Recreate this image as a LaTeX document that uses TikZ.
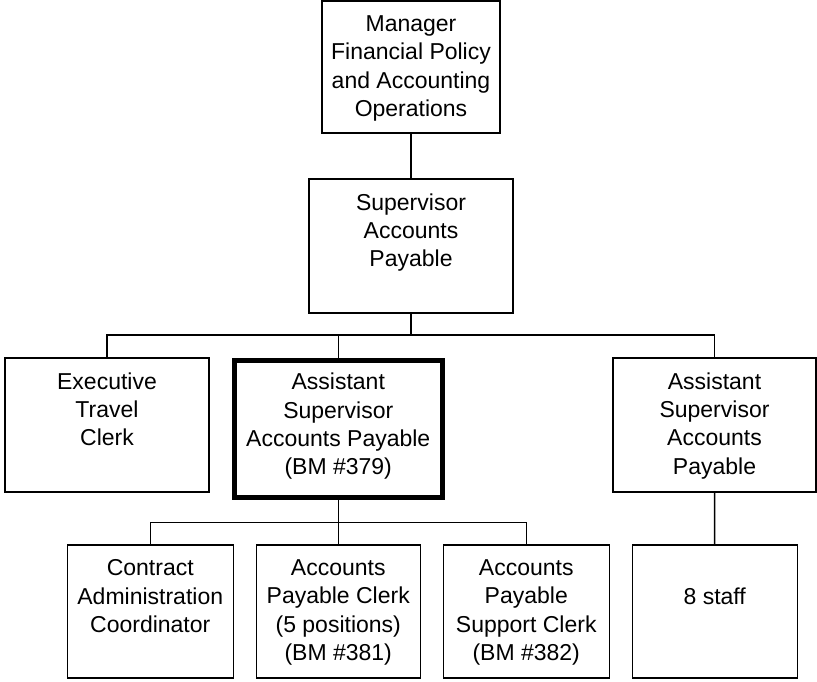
\documentclass[tikz,border=0pt]{standalone}
\usepackage{fontspec}
\setmainfont{Liberation Sans}
\usetikzlibrary{positioning}
\tikzset{
x=1pt, y=1pt, % one unit is one pixel of the chart
box/.style={draw, line width=1.5pt, inner sep=0pt, outer sep=0pt}, % sets the look of each post
bold box/.style={box, line width=5pt}, % the post that is picked out
lbl/.style={anchor=north, align=center, inner sep=0pt, yshift=-14.5pt, font=\fontsize{23}{28.3}\selectfont}, % text at the top of a post
link/.style={line width=1.5pt}, % the lines between posts
drop/.style={to path={(\tikztostart) -- ++(0,-#1) -| (\tikztotarget)}}, % down to the bus, across and down again
}
\begin{document}
\begin{tikzpicture}
\fill[white] (0,0) rectangle (817,-681);
\useasboundingbox (0,0) rectangle (817,-681);

            \node[box, minimum width=178pt, minimum height=132pt, label={[lbl]north:Manager\\Financial Policy\\and Accounting\\Operations}] (mgr) at (411,-67) {};
            \node[box, below=46pt of mgr, minimum width=204pt, minimum height=134pt, label={[lbl]north:Supervisor\\Accounts\\Payable}] (sup) {};
            \node[bold box, minimum width=207.5pt, minimum height=137pt, label={[lbl, yshift=1.5pt]north:Assistant\\Supervisor\\Accounts Payable\\(BM \#379)}] (asst) at (338.25,-428.5) {};
            \node[box, left=25.5pt of asst, yshift=3.5pt, minimum width=204pt, minimum height=134pt, label={[lbl]north:Executive\\Travel\\Clerk}] (exec) {};
            \node[box, right=171pt of asst, yshift=3.5pt, minimum width=203pt, minimum height=134pt, label={[lbl]north:Assistant\\Supervisor\\Accounts\\Payable}] (asst2) {};
            \node[box, below=48pt of asst, minimum width=164pt, minimum height=133pt, label={[lbl]north:Accounts\\Payable Clerk\\(5 positions)\\(BM \#381)}] (apclerk) {};
            \node[box, left=23pt of apclerk, minimum width=166pt, minimum height=133pt, label={[lbl]north:Contract\\Administration\\Coordinator}] (contract) {};
            \node[box, right=23pt of apclerk, minimum width=166pt, minimum height=133pt, label={[lbl]north:Accounts\\Payable\\Support Clerk\\(BM \#382)}] (support) {};
            \node[box, right=23pt of support, minimum width=165pt, minimum height=133pt, label={[lbl, yshift=-28.3pt]north:8 staff}] (staff) {};
            \draw[link]   (mgr) -- (sup);
            \draw[link]   (sup.south) edge[drop=22pt] (exec.north) edge[drop=22pt] (asst.north) edge[drop=22pt] (asst2.north);
            \draw[link]   (asst.south) edge[drop=25.5pt] (contract.north) edge[drop=25.5pt] (apclerk.north) edge[drop=25.5pt] (support.north);
            \draw[link]   (asst2) -- (staff);
        \end{tikzpicture}
\end{document}
